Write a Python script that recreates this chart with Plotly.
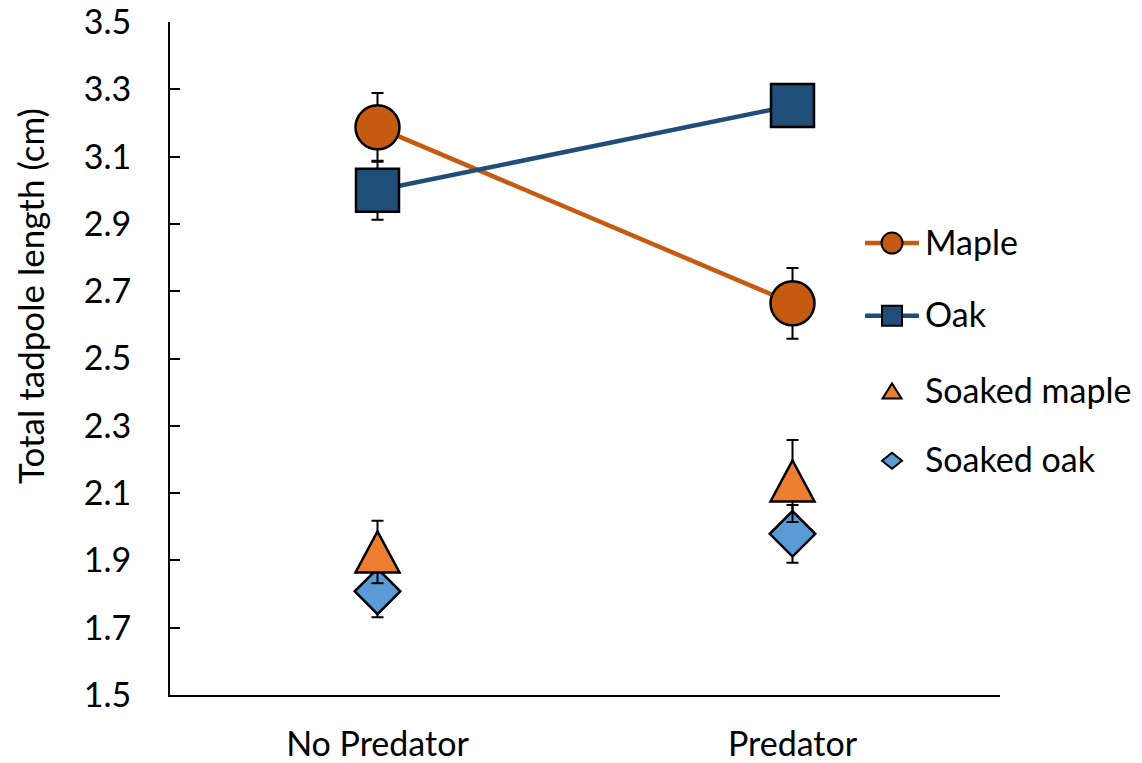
import plotly.graph_objects as go

# Treatment categories along the x axis
categories = ["No Predator", "Predator"]
x_pos = [0, 1]

# Mean total tadpole length (cm) and standard errors by leaf litter type
maple = [3.187, 2.664]
maple_err = [0.102, 0.105]
oak = [3.000, 3.252]
oak_err = [0.088, 0.060]
soaked_maple = [1.925, 2.136]
soaked_maple_err = [0.093, 0.122]
soaked_oak = [1.808, 1.979]
soaked_oak_err = [0.077, 0.086]

y_ticks = [1.5, 1.7, 1.9, 2.1, 2.3, 2.5, 2.7, 2.9, 3.1, 3.3, 3.5]

MAPLE_C = "#C55A11"
OAK_C = "#1F4E79"
SMAPLE_C = "#ED7D31"
SOAK_C = "#5B9BD5"
FONT = "Lato"
FS = 34


def err(arr):
    return dict(type="data", array=arr, visible=True, color="black",
                thickness=2, width=6)


fig = go.Figure()

fig.add_trace(go.Scatter(
    x=x_pos, y=maple, name="Maple", mode="lines+markers",
    line=dict(color=MAPLE_C, width=4.5),
    marker=dict(symbol="circle", size=44, color=MAPLE_C,
                line=dict(color="black", width=2.5)),
    error_y=err(maple_err), showlegend=False))

fig.add_trace(go.Scatter(
    x=x_pos, y=oak, name="Oak", mode="lines+markers",
    line=dict(color=OAK_C, width=4.5),
    marker=dict(symbol="square", size=43, color=OAK_C,
                line=dict(color="black", width=2.5)),
    error_y=err(oak_err), showlegend=False))

fig.add_trace(go.Scatter(
    x=x_pos, y=soaked_oak, name="Soaked oak", mode="markers",
    marker=dict(symbol="diamond", size=35, color=SOAK_C,
                line=dict(color="black", width=2.5)),
    error_y=err(soaked_oak_err), showlegend=False))

# Soaked maple: error bars from the trace, triangles drawn as shapes on top
fig.add_trace(go.Scatter(
    x=x_pos, y=soaked_maple, name="Soaked maple", mode="markers",
    marker=dict(size=1, color="rgba(0,0,0,0)"),
    error_y=err(soaked_maple_err), showlegend=False))

shapes = []
tri_big = "M -22,-20.5 L 22,-20.5 L 0,20.5 Z"
for xv, yv in zip(x_pos, soaked_maple):
    shapes.append(dict(type="path", xref="x", yref="y",
                       xsizemode="pixel", ysizemode="pixel",
                       xanchor=xv, yanchor=yv, path=tri_big,
                       fillcolor=SMAPLE_C, line=dict(color="black", width=2.5),
                       layer="above"))

# Legend built from shapes and annotations
leg_x = 0.8699
leg_rows = [
    ("Maple", 0.6716, "circle"),
    ("Oak", 0.5636, "square"),
    ("Soaked maple", 0.4510, "triangle"),
    ("Soaked oak", 0.3480, "diamond"),
]
annotations = []
for label, ly, kind in leg_rows:
    common = dict(xref="paper", yref="paper", xsizemode="pixel",
                  ysizemode="pixel", xanchor=leg_x, yanchor=ly, layer="above")
    if kind == "circle":
        shapes.append(dict(type="line", x0=-27, x1=27, y0=0, y1=0,
                           line=dict(color=MAPLE_C, width=4.5), **common))
        shapes.append(dict(type="circle", x0=-10.5, x1=10.5, y0=-10.5, y1=10.5,
                           fillcolor=MAPLE_C, line=dict(color="black", width=2),
                           **common))
    elif kind == "square":
        shapes.append(dict(type="line", x0=-27, x1=27, y0=0, y1=0,
                           line=dict(color=OAK_C, width=4.5), **common))
        shapes.append(dict(type="rect", x0=-10, x1=10, y0=-10, y1=10,
                           fillcolor=OAK_C, line=dict(color="black", width=2),
                           **common))
    elif kind == "triangle":
        shapes.append(dict(type="path", path="M -9.5,-7 L 9.5,-7 L 0,8 Z",
                           fillcolor=SMAPLE_C, line=dict(color="black", width=2),
                           **common))
    else:
        shapes.append(dict(type="path", path="M -10,0 L 0,8 L 10,0 L 0,-8 Z",
                           fillcolor=SOAK_C, line=dict(color="black", width=2),
                           **common))
    annotations.append(dict(x=leg_x, y=ly, xref="paper", yref="paper",
                            xshift=31, yshift=2, text=label, showarrow=False,
                            xanchor="left", yanchor="middle",
                            font=dict(family=FONT, size=FS, color="black")))

annotations.append(dict(x=-0.1687, y=0.593, xref="paper", yref="paper",
                        text="Total tadpole length (cm)", textangle=-90,
                        showarrow=False, xanchor="center", yanchor="middle",
                        font=dict(family=FONT, size=35, color="black")))

fig.update_layout(
    width=1142, height=763,
    margin=dict(l=170, r=142, t=22, b=68, autoexpand=False),
    paper_bgcolor="white", plot_bgcolor="white",
    font=dict(family=FONT, size=FS, color="black"),
    shapes=shapes, annotations=annotations,
    showlegend=False,
)

fig.update_xaxes(
    range=[-0.5, 1.5], tickvals=x_pos, ticktext=categories,
    showline=True, linecolor="black", linewidth=2,
    showgrid=False, zeroline=False, ticks="", automargin=False,
    ticklabeloverflow="allow",
    ticklabelstandoff=18, tickfont=dict(family=FONT, size=FS, color="black"),
)
fig.update_yaxes(
    range=[1.5, 3.5], tickvals=y_ticks,
    ticktext=[f"{v:.1f}" for v in y_ticks],
    showline=True, linecolor="black", linewidth=2,
    showgrid=False, zeroline=False, automargin=False,
    ticklabeloverflow="allow",
    ticks="inside", ticklen=10, tickwidth=2, tickcolor="black",
    ticklabelstandoff=30, tickfont=dict(family=FONT, size=FS, color="black"),
)

fig.write_html("out.html")
